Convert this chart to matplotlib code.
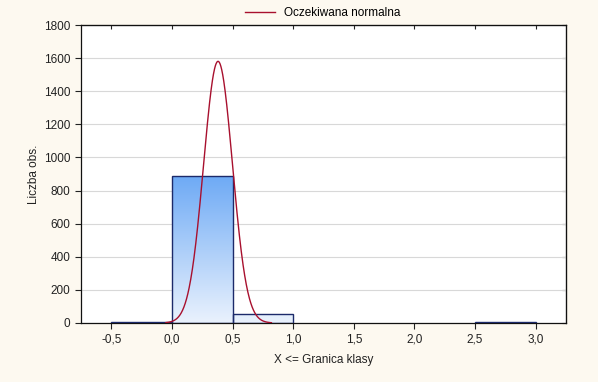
import numpy as np
import matplotlib.pyplot as plt
from matplotlib.colors import LinearSegmentedColormap

plt.rcParams['font.family'] = ['Liberation Sans', 'DejaVu Sans']

# histogram classes (upper boundaries) and counts
bin_left = [-0.5, 0.0, 0.5, 2.5]
bin_width = 0.5
counts = [3, 885, 52, 3]

# expected normal curve parameters
n_obs = 943
mean = 0.38
sd = 0.119

xticks = [-0.5, 0.0, 0.5, 1.0, 1.5, 2.0, 2.5, 3.0]
xticklabels = ["-0,5", "0,0", "0,5", "1,0", "1,5", "2,0", "2,5", "3,0"]
yticks = [0, 200, 400, 600, 800, 1000, 1200, 1400, 1600, 1800]

fig = plt.figure(figsize=(5.98, 3.82), dpi=100, facecolor="#fdf9f0")
ax = fig.add_axes([0.1355, 0.1545, 0.811, 0.78])

# one gradient shared by all bars: light at the bottom, blue at the tallest bar top
cmap = LinearSegmentedColormap.from_list("bar", ["#eaf2fd", "#6eaaf5"])
grad = np.linspace(0, 1, 256).reshape(-1, 1)
top = max(counts)
for x0, c in zip(bin_left, counts):
    bar = ax.bar(x0, c, width=bin_width, align="edge", facecolor="none",
                 edgecolor="#1c2a6a", linewidth=1.0, zorder=3)[0]
    im = ax.imshow(grad, cmap=cmap, aspect="auto", origin="lower",
                   extent=[x0, x0 + bin_width, 0, top], zorder=2)
    im.set_clip_path(bar)
ax.set_xlim(-0.75, 3.25)
ax.set_ylim(0, 1800)

xs = np.linspace(-0.05, 0.82, 400)
ys = n_obs * bin_width / (sd * np.sqrt(2 * np.pi)) * np.exp(-0.5 * ((xs - mean) / sd) ** 2)
ax.plot(xs, ys, color="#a8102e", linewidth=1.0, zorder=4, label="Oczekiwana normalna")

ax.set_xticks(xticks)
ax.set_xticklabels(xticklabels)
ax.set_yticks(yticks)
ax.grid(axis="y", color="#d8d8d8", linewidth=0.8)
ax.set_axisbelow(True)
ax.tick_params(axis="both", labelsize=8.5, colors="#222222", length=4, direction="out")
ax2 = ax.secondary_xaxis("top")
ax2.set_xticks(xticks)
ax2.tick_params(direction="in", length=3, labeltop=False, colors="#222222")
ax3 = ax.secondary_yaxis("right")
ax3.set_yticks(yticks)
ax3.tick_params(direction="in", length=3, labelright=False, colors="#222222")
for s in ax.spines.values():
    s.set_color("#111111")
    s.set_linewidth(0.9)

ax.set_xlabel("X <= Granica klasy", fontsize=8.5, color="#222222", labelpad=6)
ax.set_ylabel("Liczba obs.", fontsize=8.5, color="#222222", labelpad=3)

fig.legend(loc="upper center", bbox_to_anchor=(0.54, 1.01), frameon=False,
           fontsize=8.5, handlelength=2.5)

fig.savefig("out.png", dpi=100, facecolor=fig.get_facecolor())
